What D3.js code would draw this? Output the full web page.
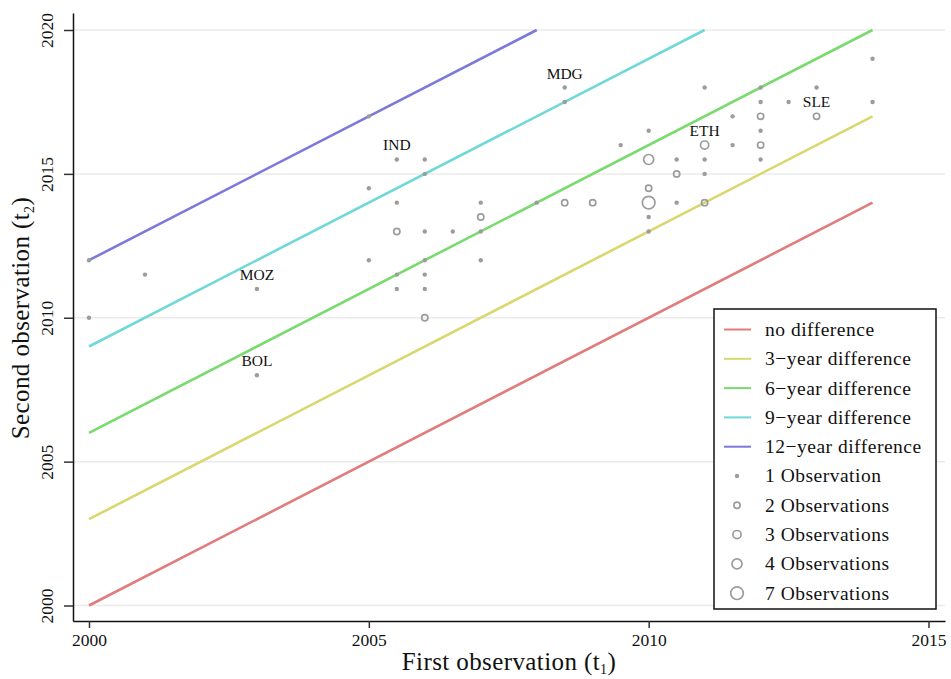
<!DOCTYPE html>
<html>
<head>
<meta charset="utf-8">
<script src="https://cdn.jsdelivr.net/npm/d3@7"></script>
<style>
  body { margin: 0; background: #fff; }
  svg text { font-family: "Liberation Serif", "DejaVu Serif", serif; fill: #111; }
</style>
</head>
<body>
<div id="chart"></div>
<script>
// --- DATA ---
// single observations (t1, t2)
const dotT1 = [2000, 2000, 2001, 2003, 2003, 2005, 2005, 2005, 2005.5, 2005.5, 2005.5, 2005.5,
  2006, 2006, 2006, 2006, 2006, 2006, 2006.5, 2007, 2007, 2007, 2008, 2008.5, 2008.5, 2009.5,
  2010, 2010, 2010, 2010.5, 2010.5, 2011, 2011, 2011, 2011.5, 2011.5, 2012, 2012, 2012, 2012,
  2012.5, 2013, 2014, 2014];
const dotT2 = [2012, 2010, 2011.5, 2011, 2008, 2017, 2014.5, 2012, 2015.5, 2014, 2011.5, 2011,
  2015.5, 2015, 2013, 2012, 2011.5, 2011, 2013, 2014, 2013, 2012, 2014, 2018, 2017.5, 2016,
  2016.5, 2013.5, 2013, 2015.5, 2014, 2018, 2015.5, 2015, 2017, 2016, 2018, 2017.5, 2016.5, 2015.5,
  2017.5, 2018, 2019, 2017.5];

// repeated observations (t1, t2, count)
const ringT1 = [2005.5, 2006, 2007, 2008.5, 2009, 2010, 2010, 2010, 2010.5, 2011, 2011, 2012, 2012, 2013];
const ringT2 = [2013, 2010, 2013.5, 2014, 2014, 2015.5, 2014.5, 2014, 2015, 2016, 2014, 2017, 2016, 2017];
const ringN  = [2, 2, 2, 2, 2, 4, 2, 7, 2, 3, 2, 2, 2, 2];

// country labels
const labelCodes = ["MOZ", "BOL", "IND", "MDG", "ETH", "SLE"];
const labelT1 = [2003, 2003, 2005.5, 2008.5, 2011, 2013];
const labelT2 = [2011, 2008, 2015.5, 2018, 2016, 2017];

// reference lines
const diffs = [0, 3, 6, 9, 12];
const diffNames = ["no difference", "3\u2212year difference", "6\u2212year difference",
  "9\u2212year difference", "12\u2212year difference"];
const diffColors = ["#e07c7c", "#d9d76e", "#79da6e", "#70d8d8", "#7c79db"];

const obsCounts = [1, 2, 3, 4, 7];
const obsNames = ["1 Observation", "2 Observations", "3 Observations", "4 Observations", "7 Observations"];

const xTicks = [2000, 2005, 2010, 2015];
const yTicks = [2000, 2005, 2010, 2015, 2020];

// --- SETUP ---
const width = 951, height = 679;
const svg = d3.select("#chart").append("svg")
  .attr("width", width).attr("height", height);

const x = d3.scaleLinear().domain([2000, 2015]).range([89, 928.5]);
const y = d3.scaleLinear().domain([2000, 2020]).range([605.5, 30]);
const pLeft = 73, pRight = 945, pTop = 13, pBottom = 621;

const rScale = d3.scaleOrdinal().domain(obsCounts).range([2.2, 3.1, 4.1, 5.0, 6.3]);
const grey = "#9c9c9c";

// grid
svg.append("g").selectAll("line")
  .data(yTicks).enter().append("line")
  .attr("x1", pLeft).attr("x2", pRight)
  .attr("y1", d => y(d)).attr("y2", d => y(d))
  .attr("stroke", "#ebebeb").attr("stroke-width", 1.5);

// axes
const xAxis = svg.append("g")
  .attr("transform", `translate(0,${pBottom})`)
  .call(d3.axisBottom(x.copy().domain([x.invert(pLeft), x.invert(pRight)]).range([pLeft, pRight]))
    .tickValues(xTicks).tickFormat(d3.format("d")).tickSize(7).tickSizeOuter(0).tickPadding(6));
const yAxis = svg.append("g")
  .attr("transform", `translate(${pLeft},0)`)
  .call(d3.axisLeft(y.copy().domain([y.invert(pBottom), y.invert(pTop)]).range([pBottom, pTop]))
    .tickValues(yTicks).tickFormat(d3.format("d")).tickSize(9).tickSizeOuter(0));

[xAxis, yAxis].forEach(a => {
  a.select(".domain").attr("stroke", "#111").attr("stroke-width", 1.5);
  a.selectAll(".tick line").attr("stroke", "#333").attr("stroke-width", 1.5);
  a.selectAll(".tick text").style("font-size", "17.5px").attr("fill", "#111");
});
yAxis.selectAll(".tick text")
  .attr("x", null).attr("dy", null)
  .attr("text-anchor", "middle")
  .attr("transform", "translate(-20,0) rotate(-90)");

// axis titles
const xt = svg.append("text")
  .attr("x", 509).attr("y", 670)
  .attr("text-anchor", "middle")
  .style("font-size", "25px").style("letter-spacing", "0.4px")
  .text("First observation (t");
xt.append("tspan").attr("dy", 4).style("font-size", "14px").text("1");
xt.append("tspan").attr("dy", -4).text(")");

const yt = svg.append("text")
  .attr("transform", "translate(29,318) rotate(-90)")
  .attr("text-anchor", "middle")
  .style("font-size", "25px").style("letter-spacing", "0.4px")
  .text("Second observation (t");
yt.append("tspan").attr("dy", 5).style("font-size", "14px").text("2");
yt.append("tspan").attr("dy", -5).text(")");

// reference lines
svg.append("g").selectAll("line")
  .data(diffs).enter().append("line")
  .attr("x1", x(2000)).attr("y1", d => y(2000 + d))
  .attr("x2", d => x(Math.min(2014, 2020 - d)))
  .attr("y2", d => y(Math.min(2014, 2020 - d) + d))
  .attr("stroke", (d, i) => diffColors[i])
  .attr("stroke-width", 2.6);

// points
svg.append("g").selectAll("circle")
  .data(dotT1).enter().append("circle")
  .attr("cx", d => x(d))
  .attr("cy", (d, i) => y(dotT2[i]))
  .attr("r", rScale(1))
  .attr("fill", grey);

svg.append("g").selectAll("circle")
  .data(ringT1).enter().append("circle")
  .attr("cx", d => x(d))
  .attr("cy", (d, i) => y(ringT2[i]))
  .attr("r", (d, i) => rScale(ringN[i]))
  .attr("fill", "none")
  .attr("stroke", grey)
  .attr("stroke-width", 1.7);

// country labels
svg.append("g").selectAll("text")
  .data(labelCodes).enter().append("text")
  .attr("x", (d, i) => x(labelT1[i]))
  .attr("y", (d, i) => y(labelT2[i]) - 9)
  .attr("text-anchor", "middle")
  .style("font-size", "15.5px")
  .text(d => d);

// legend
const lg = svg.append("g");
lg.append("rect")
  .attr("x", 714).attr("y", 309).attr("width", 222).attr("height", 300)
  .attr("fill", "#fff").attr("stroke", "#111").attr("stroke-width", 1.5);

const rowY = i => 329.5 + i * 29.3;
diffNames.forEach((name, i) => {
  lg.append("line")
    .attr("x1", 724).attr("x2", 751)
    .attr("y1", rowY(i)).attr("y2", rowY(i))
    .attr("stroke", diffColors[i]).attr("stroke-width", 2);
  lg.append("text")
    .attr("x", 765).attr("y", rowY(i)).attr("dy", "0.33em")
    .style("font-size", "19.5px").style("letter-spacing", "0.5px").text(name);
});
obsNames.forEach((name, j) => {
  const i = j + diffNames.length;
  const c = obsCounts[j];
  lg.append("circle")
    .attr("cx", 737).attr("cy", rowY(i))
    .attr("r", rScale(c))
    .attr("fill", c === 1 ? grey : "none")
    .attr("stroke", c === 1 ? "none" : grey)
    .attr("stroke-width", 1.7);
  lg.append("text")
    .attr("x", 765).attr("y", rowY(i)).attr("dy", "0.33em")
    .style("font-size", "19.5px").style("letter-spacing", "0.5px").text(name);
});
</script>
</body>
</html>
